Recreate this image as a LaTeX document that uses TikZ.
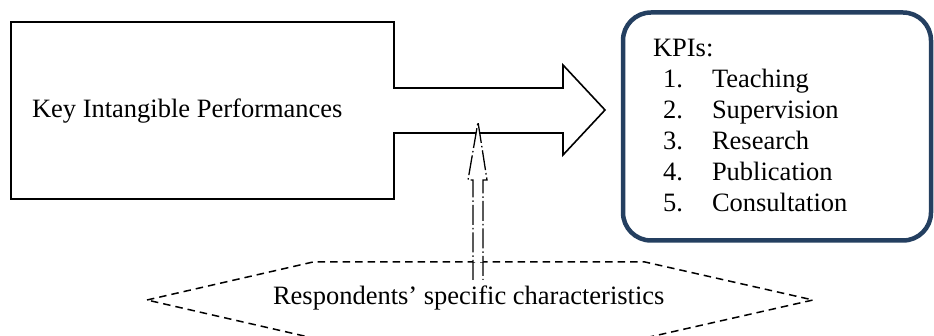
\documentclass[tikz,border=0pt]{standalone}
\usepackage{fontspec}
\setmainfont{Liberation Serif}
\definecolor{kpiblue}{HTML}{243F60}
\tikzset{
  bigline/.style={line width=1.6pt, draw=black, line join=miter},
  kpibox/.style={line width=4.5pt, draw=kpiblue, rounded corners=28pt},
  hexline/.style={line width=1.5pt, draw=black, dash pattern=on 7.5pt off 5pt},
  dashdotline/.style={line width=1.3pt, draw=black, dash pattern=on 20pt off 3pt on 1.5pt off 3pt},
  lbl/.style={anchor=base west, inner sep=0pt, outer sep=0pt},
}
\begin{document}
\begin{tikzpicture}[x=1pt, y=-1pt, font=\fontsize{26.5}{31}\selectfont]
\useasboundingbox (0,0) rectangle (934,336);

% big block arrow
\draw[bigline] (11,22) -- (394,22) -- (394,88) -- (563,88) -- (563,65)
  -- (605,110) -- (563,155) -- (563,133) -- (394,133) -- (394,199) -- (11,199) -- cycle;
\node[lbl] (kip) at (32,118) {Key Intangible Performances};

% KPI box
\draw[kpibox] (623,12.5) rectangle (931,240.5);
\node[lbl] (kpis) at (653,57) {KPIs:};
\node[lbl] (n1) at (663,88) {1.};  \node[lbl] (t1) at (712,88) {Teaching};
\node[lbl] (n2) at (663,119) {2.}; \node[lbl] (t2) at (712,119) {Supervision};
\node[lbl] (n3) at (663,150) {3.}; \node[lbl] (t3) at (712,150) {Research};
\node[lbl] (n4) at (663,181) {4.}; \node[lbl] (t4) at (712,181) {Publication};
\node[lbl] (n5) at (663,212) {5.}; \node[lbl] (t5) at (712,212) {Consultation};

% hexagon
\draw[hexline] (147,300) -- (313,262) -- (645,262) -- (813,300) -- (645,338) -- (313,338) -- cycle;
\node[lbl] (rsc) at (273,305) {Respondents’ specific characteristics};

% dash-dot hollow arrow
\coordinate (abl) at (473,280);
\coordinate (abr) at (483,280);
\coordinate (atip) at (478,122);
\fill[white] (473,262) -- (473,180) -- (468,180) -- (atip) -- (487,180) -- (483,180) -- (483,262) -- cycle;
\draw[dashdotline] (abl) -- (473,180) -- (468,180) -- (atip) -- (487,180) -- (483,180) -- (abr);
\end{tikzpicture}
\end{document}
